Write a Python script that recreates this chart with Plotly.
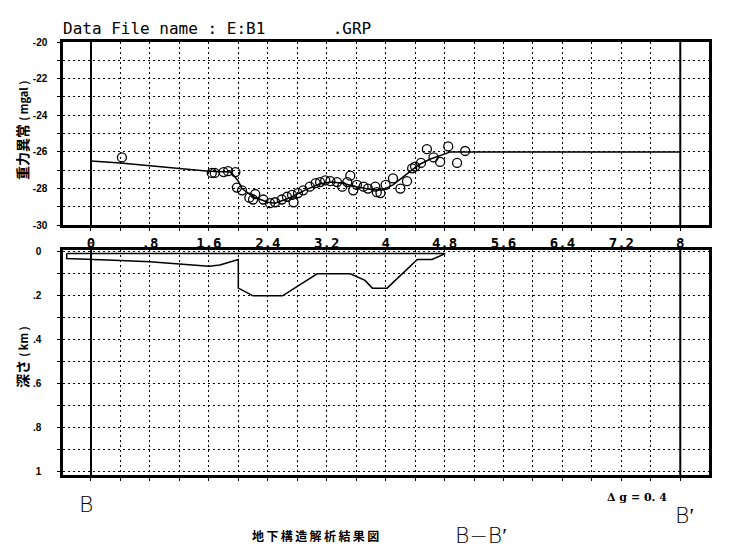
import plotly.graph_objects as go

# ---------------- data ----------------
obs_x = [0.42, 1.64, 1.68, 1.80, 1.86, 1.96, 1.98, 2.05, 2.15, 2.20, 2.23, 2.34, 2.43, 2.50,
         2.59, 2.66, 2.73, 2.75, 2.81, 2.88, 2.97, 3.05, 3.11, 3.18, 3.25, 3.34, 3.41, 3.48,
         3.52, 3.56, 3.61, 3.70, 3.76, 3.86, 3.88, 3.93, 4.00, 4.10, 4.20, 4.29, 4.36, 4.40,
         4.48, 4.56, 4.65, 4.74, 4.85, 4.97, 5.08]
obs_g = [-26.3, -27.15, -27.15, -27.1, -27.05, -27.1, -27.95, -28.1, -28.5, -28.6, -28.3, -28.6, -28.8, -28.75,
         -28.6, -28.45, -28.35, -28.75, -28.25, -28.1, -27.9, -27.7, -27.65, -27.55, -27.6, -27.65, -27.9, -27.65,
         -27.3, -28.1, -27.8, -27.9, -28.0, -27.9, -28.2, -28.25, -27.8, -27.45, -28.0, -27.6, -26.9, -26.8,
         -26.6, -25.85, -26.3, -26.55, -25.7, -26.6, -25.95]

calc_x = [0.0, 0.4, 0.8, 1.2, 1.6, 1.9, 2.0, 2.05, 2.2, 2.4, 2.5, 2.7, 2.9, 3.1, 3.25, 3.4,
          3.6, 3.8, 3.95, 4.1, 4.3, 4.45, 4.6, 4.75, 4.88, 8.0]
calc_g = [-26.5, -26.6, -26.75, -26.9, -27.05, -27.1, -27.6, -28.0, -28.45, -28.75, -28.8, -28.5, -28.1, -27.75,
          -27.65, -27.7, -27.9, -28.05, -28.1, -27.8, -27.2, -26.7, -26.4, -26.2, -26.0, -26.0]

body_x = [-0.33, 4.81, 4.63, 4.43, 4.02, 3.82, 3.72, 3.52, 3.07, 2.88, 2.6, 2.2, 2.0, 2.0,
          1.75, 1.6, 1.2, 0.8, 0.4, 0.0, -0.33, -0.33]
body_z = [0.008, 0.008, 0.035, 0.035, 0.165, 0.165, 0.13, 0.1, 0.1, 0.14, 0.2, 0.2, 0.165, 0.035,
          0.06, 0.065, 0.055, 0.045, 0.04, 0.035, 0.03, 0.008]

x_tickvals = [round(i * 0.4, 1) for i in range(21)]
x_ticktext = ["0", "", ".8", "", "1.6", "", "2.4", "", "3.2", "", "4", "", "4.8", "", "5.6", "",
              "6.4", "", "7.2", "", "8"]
g_tickvals = [-30, -29, -28, -27, -26, -25, -24, -23, -22, -21, -20]
g_ticktext = ["-30", "", "-28", "", "-26", "", "-24", "", "-22", "", "-20"]
z_tickvals = [0, 0.1, 0.2, 0.3, 0.4, 0.5, 0.6, 0.7, 0.8, 0.9, 1.0]
z_ticktext = ["0", "", ".2", "", ".4", "", ".6", "", ".8", "", "1"]
section_lines = [0, 8]

title_text = "Data File name : E:B1\u00a0\u00a0\u00a0\u00a0\u00a0\u00a0\u00a0.GRP"

# ---------------- figure ----------------
fig = go.Figure()

fig.add_trace(go.Scatter(x=calc_x, y=calc_g, mode="lines", line=dict(color="black", width=1.5),
                         xaxis="x", yaxis="y", showlegend=False))
fig.add_trace(go.Scatter(x=obs_x, y=obs_g, mode="markers",
                         marker=dict(symbol="circle-open", size=9, color="black", line=dict(width=1.3)),
                         xaxis="x", yaxis="y", showlegend=False))
fig.add_trace(go.Scatter(x=body_x, y=body_z, mode="lines", line=dict(color="black", width=1.5),
                         xaxis="x2", yaxis="y2", showlegend=False))

for xv in section_lines:
    fig.add_shape(type="line", xref="x", yref="y domain", x0=xv, x1=xv, y0=0, y1=1,
                  line=dict(color="black", width=2))
    fig.add_shape(type="line", xref="x2", yref="y2 domain", x0=xv, x1=xv, y0=0, y1=1,
                  line=dict(color="black", width=2))

grid_dash = "2px,3px"
xr = [-0.38, 8.39]
common_x = dict(range=xr, tickvals=x_tickvals, showgrid=True, gridcolor="black", griddash=grid_dash,
                gridwidth=1, zeroline=False, showline=True, linecolor="black", linewidth=2.5,
                mirror=True, ticks="outside", ticklen=3, tickcolor="black", automargin=False)

fig.update_layout(
    width=731, height=556,
    margin=dict(l=55, r=30, t=34, b=89),
    paper_bgcolor="white", plot_bgcolor="white",
    xaxis=dict(**common_x, domain=[0, 1], anchor="y", ticktext=x_ticktext,
               tickfont=dict(family="DejaVu Sans Mono", size=14, color="black", weight="bold")),
    yaxis=dict(domain=[0.577, 1.0], anchor="x", range=[-30, -20], tickvals=g_tickvals,
               ticktext=g_ticktext, showgrid=True, gridcolor="black", griddash=grid_dash, gridwidth=1,
               zeroline=False, showline=True, linecolor="black", linewidth=2.5, mirror=True,
               ticks="outside", ticklen=3, tickcolor="black", ticklabelstandoff=8, automargin=False,
               tickfont=dict(family="Liberation Sans", size=10, color="black", weight="bold")),
    xaxis2=dict(**common_x, domain=[0, 1], anchor="y2", showticklabels=False),
    yaxis2=dict(domain=[0.0, 0.52], anchor="x2", range=[1.014, -0.009], tickvals=z_tickvals,
                ticktext=z_ticktext, showgrid=True, gridcolor="black", griddash=grid_dash, gridwidth=1,
                zeroline=False, showline=True, linecolor="black", linewidth=2.5, mirror=True,
                ticks="outside", ticklen=3, tickcolor="black", ticklabelstandoff=14, automargin=False,
                tickfont=dict(family="Liberation Sans", size=10, color="black", weight="bold")),
)

ann = []
ann.append(dict(text=title_text, xref="paper", yref="paper", x=-0.003, y=1.0, xanchor="left",
                yanchor="bottom", yshift=2, showarrow=False,
                font=dict(family="DejaVu Sans Mono", size=16, color="black")))
ann.append(dict(text="重力異常 <span style='font-size:11px'>( mgal )</span>", xref="paper", yref="paper",
                x=-41 / 646, y=(475 - 131) / 433, textangle=-90, showarrow=False,
                xanchor="center", yanchor="middle",
                font=dict(family="Noto Sans CJK JP", size=14, color="black", weight="bold")))
ann.append(dict(text="深さ <span style='font-size:11px'>( km )</span>", xref="paper", yref="paper",
                x=-41 / 646, y=(475 - 357) / 433, textangle=-90, showarrow=False,
                xanchor="center", yanchor="middle",
                font=dict(family="Noto Sans CJK JP", size=14, color="black", weight="bold")))
ann.append(dict(text="B", xref="paper", yref="paper", x=(86 - 63) / 646, y=(475 - 505) / 433,
                showarrow=False, xanchor="center", yanchor="middle",
                font=dict(family="DejaVu Sans", size=22, color="black", weight=200)))
ann.append(dict(text="Δ g = 0. 4", xref="paper", yref="paper", x=(605 - 63) / 646, y=(475 - 497) / 433,
                showarrow=False, xanchor="left", yanchor="middle",
                font=dict(family="DejaVu Serif", size=11, color="black", weight="bold")))
ann.append(dict(text="B′", xref="paper", yref="paper", x=(673 - 63) / 646, y=(475 - 515) / 433,
                showarrow=False, xanchor="left", yanchor="middle",
                font=dict(family="DejaVu Sans", size=22, color="black", weight=200)))
ann.append(dict(text="\u2009".join("地下構造解析結果図"), xref="paper", yref="paper",
                x=(250 - 63) / 646, y=(475 - 535) / 433,
                showarrow=False, xanchor="left", yanchor="middle",
                font=dict(family="Noto Sans CJK JP", size=12, color="black", weight="bold")))
ann.append(dict(text="B−B′", xref="paper", yref="paper", x=(453 - 63) / 646, y=(475 - 535) / 433,
                showarrow=False, xanchor="left", yanchor="middle",
                font=dict(family="DejaVu Sans", size=22, color="black", weight=200)))
fig.update_layout(annotations=ann)

fig.write_html("out.html")
